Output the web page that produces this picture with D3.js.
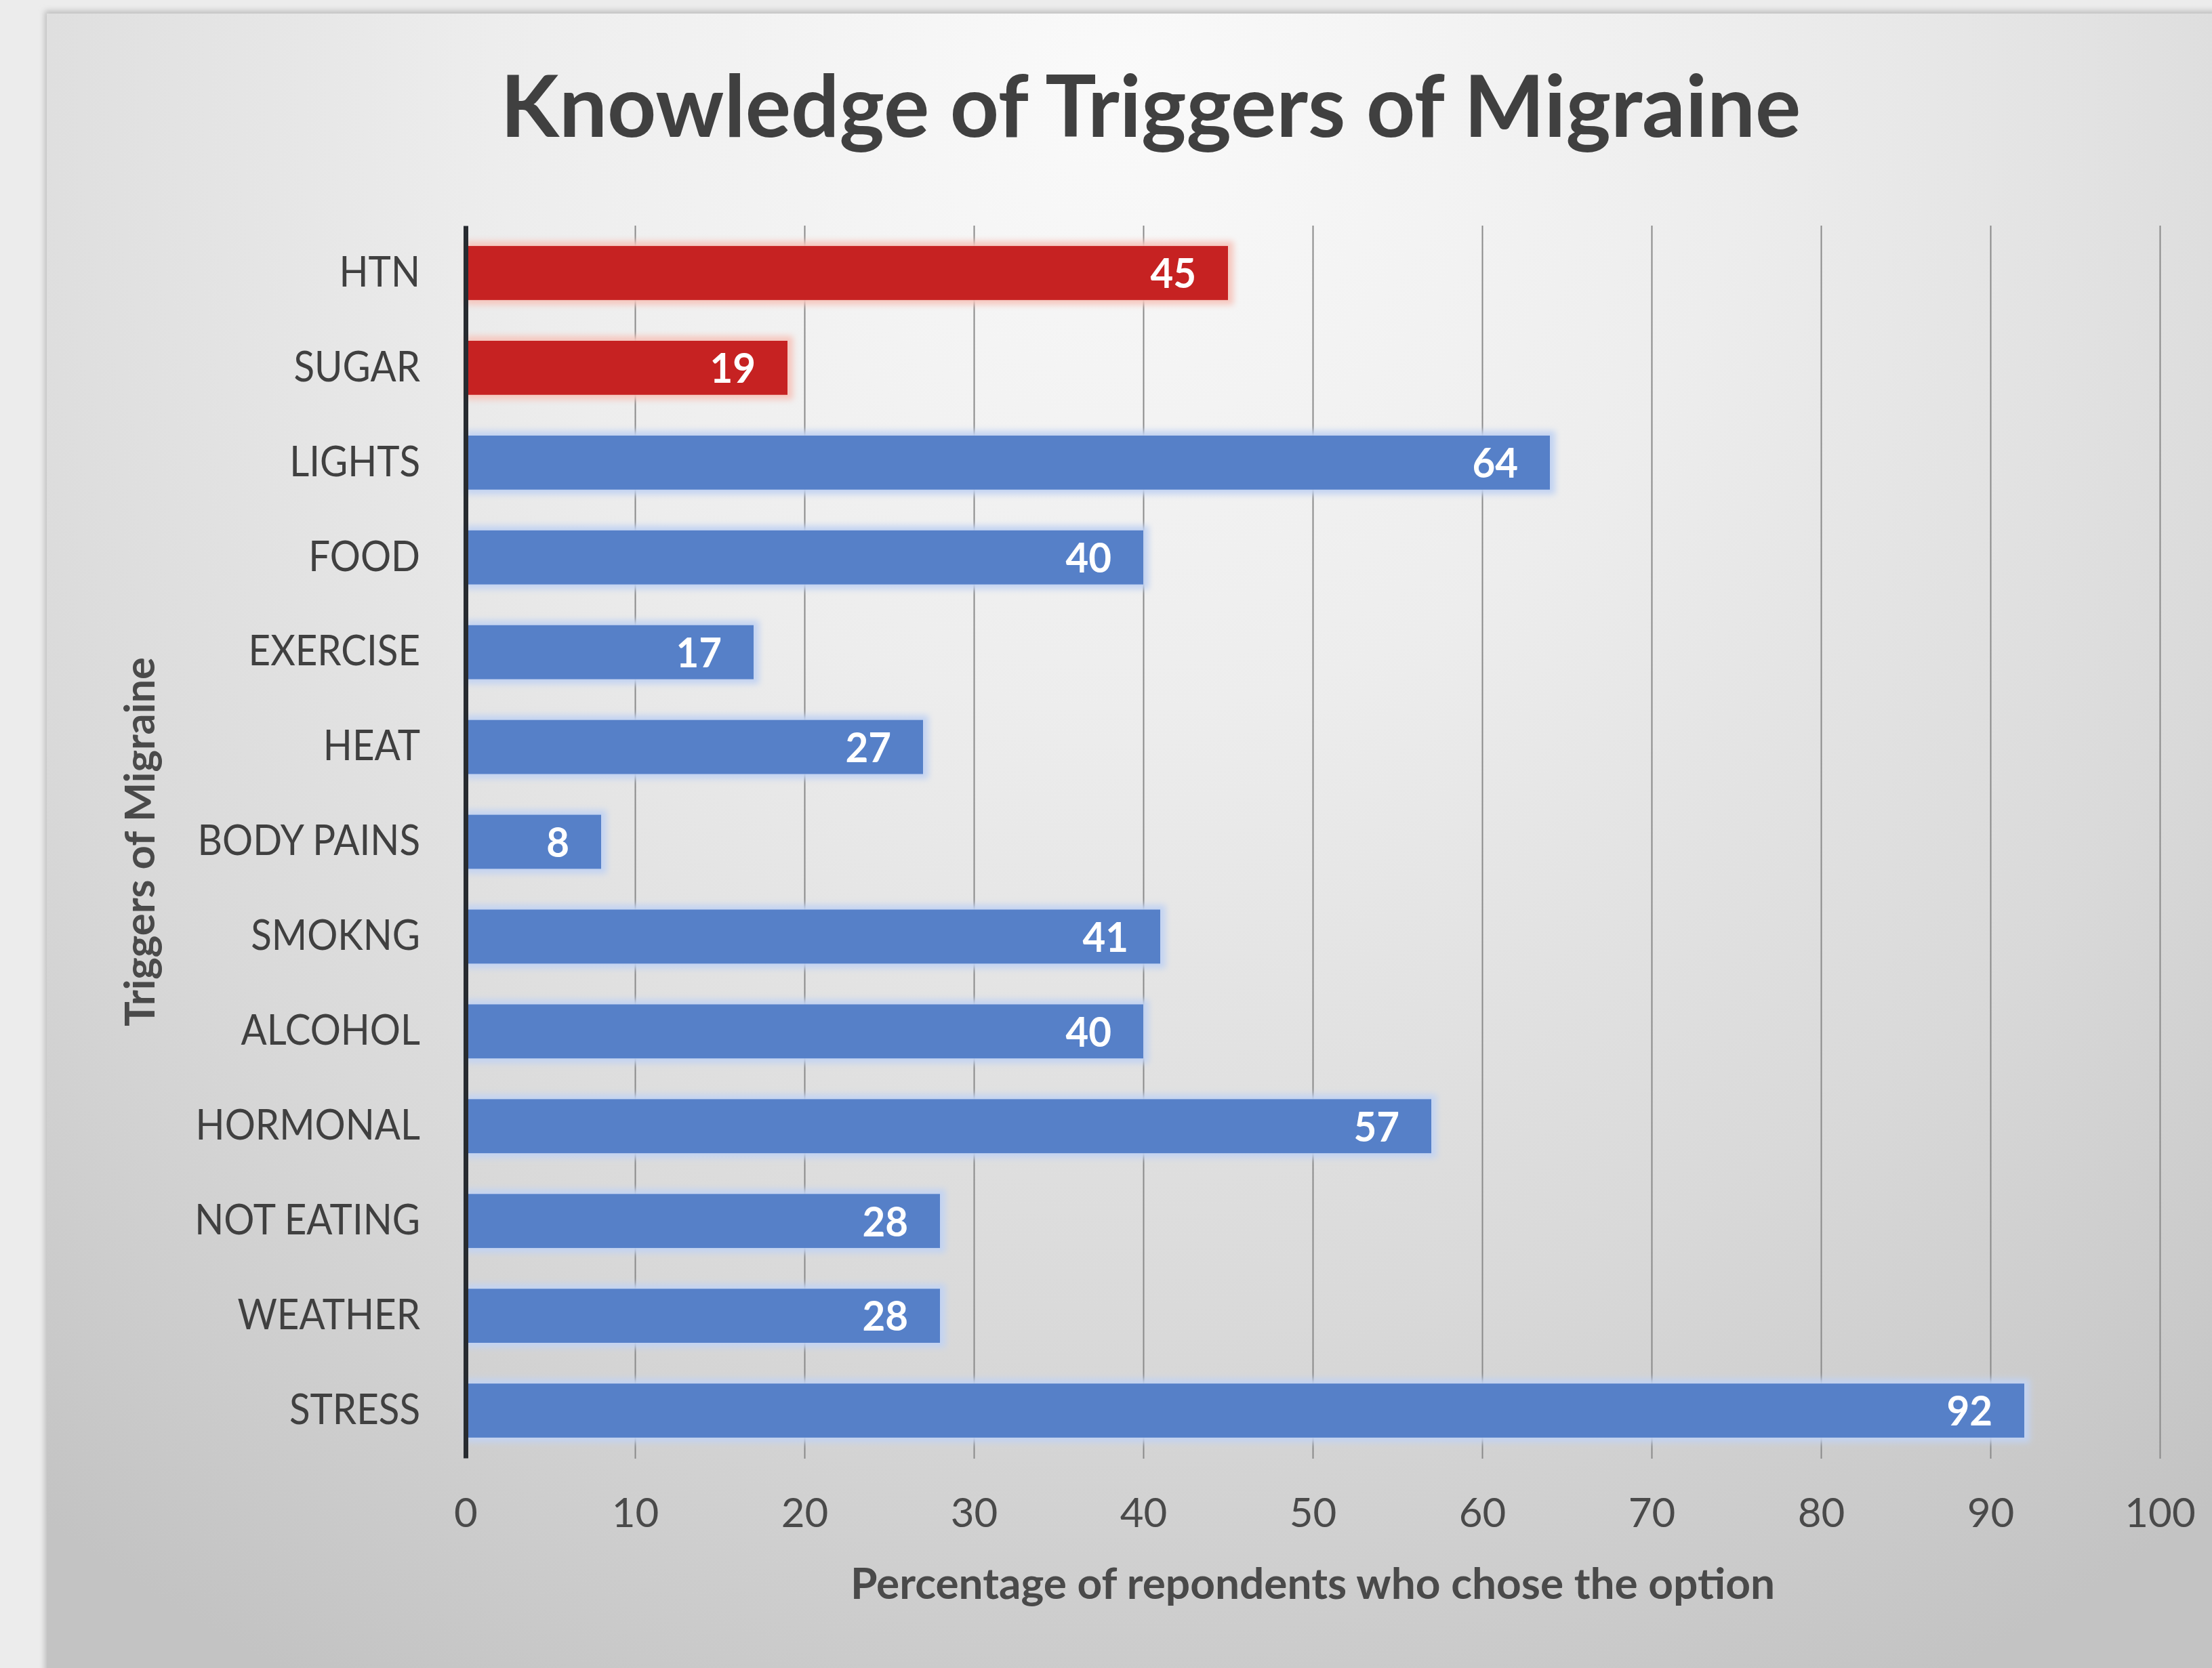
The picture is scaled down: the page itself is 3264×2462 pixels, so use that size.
<!DOCTYPE html>
<html>
<head>
<meta charset="utf-8">
<script src="https://cdn.jsdelivr.net/npm/d3@7"></script>
<style>
  html, body { margin: 0; padding: 0; background: #ececec; }
  svg { display: block; }
</style>
</head>
<body>
<svg id="chart" width="3264" height="2462"></svg>
<script>
// chart values
var categories = ['HTN', 'SUGAR', 'LIGHTS', 'FOOD', 'EXERCISE', 'HEAT', 'BODY PAINS',
                  'SMOKNG', 'ALCOHOL', 'HORMONAL', 'NOT EATING', 'WEATHER', 'STRESS'];
var values = [45, 19, 64, 40, 17, 27, 8, 41, 40, 57, 28, 28, 92];
var redCategories = ['HTN', 'SUGAR'];
var xTicks = [0, 10, 20, 30, 40, 50, 60, 70, 80, 90, 100];
var titleText = 'Knowledge of Triggers of Migraine';
var xTitle = 'Percentage of repondents who chose the option';
var yTitle = 'Triggers of Migraine';

var W = 3264, H = 2462;
var plotLeft = 687, plotRight = 3187, plotTop = 333, plotBottom = 2152;
var font = 'Lato, "Open Sans", sans-serif';

var svg = d3.select('#chart');
var defs = svg.append('defs');

// panel background gradient
var rg = defs.append('radialGradient').attr('id', 'bg')
  .attr('gradientUnits', 'userSpaceOnUse')
  .attr('cx', 1650).attr('cy', 120).attr('r', 2650);
rg.append('stop').attr('offset', 0).attr('stop-color', '#fafafa');
rg.append('stop').attr('offset', 0.35).attr('stop-color', '#ededed');
rg.append('stop').attr('offset', 0.7).attr('stop-color', '#d9d9d9');
rg.append('stop').attr('offset', 1).attr('stop-color', '#c3c3c3');

var blur = defs.append('filter').attr('id', 'glow')
  .attr('x', '-5%').attr('y', '-50%').attr('width', '110%').attr('height', '200%');
blur.append('feGaussianBlur').attr('stdDeviation', 5);

var shadow = defs.append('filter').attr('id', 'shade')
  .attr('x', '-2%').attr('y', '-2%').attr('width', '104%').attr('height', '104%');
shadow.append('feGaussianBlur').attr('stdDeviation', 4);

svg.append('rect').attr('x', 0).attr('y', 0).attr('width', W).attr('height', H).attr('fill', '#ececec');
svg.append('rect').attr('x', 66).attr('y', 16).attr('width', W).attr('height', H)
   .attr('fill', '#bdbdbd').attr('filter', 'url(#shade)');
svg.append('rect').attr('x', 69).attr('y', 20).attr('width', W - 69).attr('height', H - 20)
   .attr('fill', 'url(#bg)');

var x = d3.scaleLinear().domain([0, 100]).range([plotLeft, plotRight]);
var y = d3.scaleBand().domain(categories).range([plotTop, plotBottom])
  .paddingInner(0.43).paddingOuter(0.215);

// squeeze a text a little so Lato reads as narrow as the original font
function squeeze(sel, k) {
  sel.each(function() {
    var w = this.getComputedTextLength();
    d3.select(this).attr('textLength', w * k).attr('lengthAdjust', 'spacingAndGlyphs');
  });
}

// gridlines + tick labels
var xAxis = svg.append('g')
  .attr('transform', 'translate(0,' + (plotBottom + 1) + ')')
  .call(d3.axisBottom(x).tickValues(xTicks).tickSize(-(plotBottom + 1 - plotTop)).tickPadding(58));
xAxis.select('.domain').remove();
xAxis.selectAll('.tick line').attr('stroke', '#8a8a8a').attr('stroke-width', 2)
  .filter(function(d) { return d === 0; }).remove();
xAxis.selectAll('.tick text')
  .attr('font-family', font).attr('font-size', 60).attr('fill', '#4a4a4a');

var data = categories.map(function(c, i) { return { name: c, value: values[i] }; });
function barColor(d) { return redCategories.indexOf(d.name) >= 0 ? '#c62222' : '#5680c8'; }
function glowColor(d) { return redCategories.indexOf(d.name) >= 0 ? '#f6c6bd' : '#c2d3f2'; }

// soft glow behind bars
svg.append('g').selectAll('rect').data(data).enter().append('rect')
  .attr('x', x(0))
  .attr('y', function(d) { return y(d.name) - 7; })
  .attr('width', function(d) { return x(d.value) - x(0) + 8; })
  .attr('height', y.bandwidth() + 14)
  .attr('fill', glowColor)
  .attr('filter', 'url(#glow)');

svg.append('g').selectAll('rect').data(data).enter().append('rect')
  .attr('x', x(0))
  .attr('y', function(d) { return y(d.name); })
  .attr('width', function(d) { return x(d.value) - x(0); })
  .attr('height', y.bandwidth())
  .attr('fill', barColor);

// value labels, inside end
var vals = svg.append('g').selectAll('text').data(data).enter().append('text')
  .attr('x', function(d) { return x(d.value) - 47; })
  .attr('y', function(d) { return y(d.name) + y.bandwidth() / 2; })
  .attr('dy', '0.36em')
  .attr('text-anchor', 'end')
  .attr('font-family', font).attr('font-weight', 'bold').attr('font-size', 62)
  .attr('fill', '#ffffff')
  .text(function(d) { return d.value; });
squeeze(vals, 0.94);

// category axis
var yAxis = svg.append('g')
  .attr('transform', 'translate(' + plotLeft + ',0)')
  .call(d3.axisLeft(y).tickSize(0).tickSizeOuter(0).tickPadding(67));
yAxis.select('.domain').attr('stroke', '#272b30').attr('stroke-width', 7);
var catLabels = yAxis.selectAll('.tick text')
  .attr('font-family', font).attr('font-size', 62).attr('fill', '#404040');
squeeze(catLabels, 0.91);

// titles
function fitText(sel, target) {
  var w = sel.node().getComputedTextLength();
  if (w > target) sel.attr('textLength', target).attr('lengthAdjust', 'spacingAndGlyphs');
}

var t = svg.append('text')
  .attr('x', 1698).attr('y', 202)
  .attr('text-anchor', 'middle')
  .attr('font-family', font).attr('font-weight', 'bold').attr('font-size', 126)
  .attr('fill', '#404040')
  .text(titleText);
fitText(t, 1945);

var xt = svg.append('text')
  .attr('x', (plotLeft + plotRight) / 2).attr('y', 2360)
  .attr('text-anchor', 'middle')
  .attr('font-family', font).attr('font-weight', 'bold').attr('font-size', 64)
  .attr('fill', '#4a4a4a')
  .text(xTitle);
fitText(xt, 1375);

var yt = svg.append('text')
  .attr('transform', 'translate(228,' + (plotTop + plotBottom) / 2 + ') rotate(-90)')
  .attr('text-anchor', 'middle')
  .attr('font-family', font).attr('font-weight', 'bold').attr('font-size', 62)
  .attr('fill', '#4a4a4a')
  .text(yTitle);
fitText(yt, 545);
</script>
</body>
</html>
